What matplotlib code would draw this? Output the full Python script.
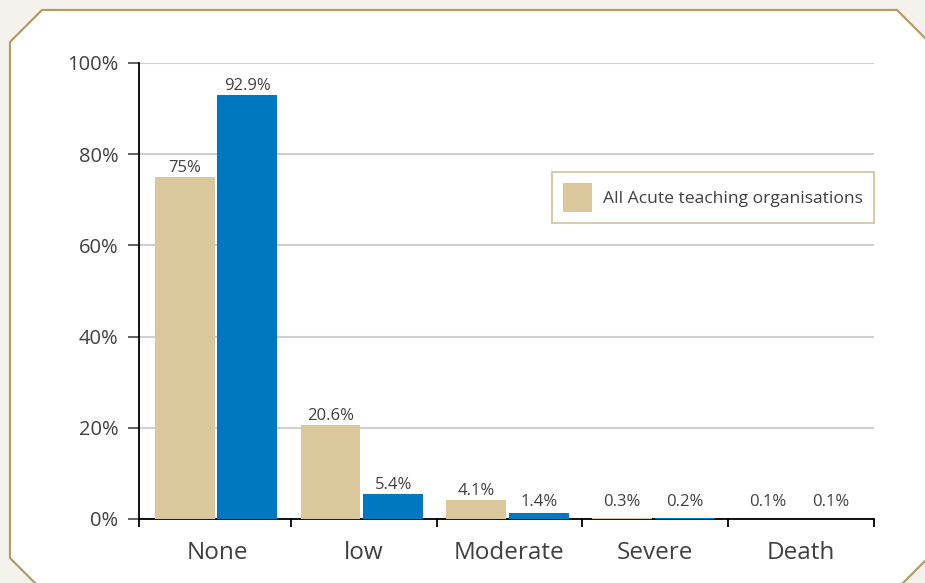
import matplotlib
matplotlib.use("Agg")
import matplotlib.pyplot as plt
from matplotlib.patches import Polygon
import numpy as np

categories = ["None", "low", "Moderate", "Severe", "Death"]
acute_teaching = [75.0, 20.6, 4.1, 0.3, 0.1]
organisation = [92.9, 5.4, 1.4, 0.2, 0.1]
acute_labels = ["75%", "20.6%", "4.1%", "0.3%", "0.1%"]
org_labels = ["92.9%", "5.4%", "1.4%", "0.2%", "0.1%"]
yticks = [0, 20, 40, 60, 80, 100]
ytick_labels = ["0%", "20%", "40%", "60%", "80%", "100%"]
legend_label = "All Acute teaching organisations"

TAN = "#dac79c"
BLUE = "#0077c1"
TEXT = "#404040"
BORDER = "#b39d66"
BG = "#f5f2ed"

plt.rcParams['font.family'] = ['Open Sans', 'DejaVu Sans']

W, H = 925, 583
fig = plt.figure(figsize=(W / 100, H / 100), dpi=100)
fig.patch.set_facecolor(BG)

def fp(x, y):
    return (x / W, 1 - y / H)

panel_px = [(10, 42), (42, 10), (897, 10), (950, 63), (950, 536),
            (897, 589), (41, 589), (10, 558)]
panel = Polygon([fp(x, y) for x, y in panel_px], closed=True,
                transform=fig.transFigure, facecolor="white",
                edgecolor=BORDER, linewidth=1.6, zorder=0)
fig.add_artist(panel)

ax = fig.add_axes([139 / W, 1 - 519 / H, (874 - 139) / W, (519 - 63) / H])
ax.set_facecolor("none")

x = np.arange(len(categories))
bw = 0.41
off = 0.215
shift = -0.012
ax.bar(x - off + shift, acute_teaching, width=bw, color=TAN, zorder=3, label=legend_label)
ax.bar(x + off + shift, organisation, width=bw, color=BLUE, zorder=3)

for xi, v, lab in zip(x - off + shift, acute_teaching, acute_labels):
    ax.annotate(lab, (xi, max(v, 1.6)), xytext=(0, 1), textcoords="offset points",
                ha="center", va="bottom", fontsize=12, color=TEXT)
for xi, v, lab in zip(x + off + shift, organisation, org_labels):
    ax.annotate(lab, (xi, max(v, 1.6)), xytext=(0, 1), textcoords="offset points",
                ha="center", va="bottom", fontsize=12, color=TEXT)

ax.set_xlim(-0.54, 4.5)
ax.set_ylim(0, 100)
ax.set_yticks(yticks)
ax.set_yticklabels(ytick_labels, fontsize=14.5, color=TEXT)
ax.yaxis.grid(True, color="#cfcfcf", linewidth=1.5, zorder=0)
ax.set_axisbelow(True)
ax.tick_params(axis="y", length=8, width=1.3, color="#555555", pad=7)

ax.set_xticks(x)
ax.set_xticklabels(categories, fontsize=17.5, color=TEXT)
ax.set_xticks([-0.54, 0.5, 1.5, 2.5, 3.5, 4.5], minor=True)
ax.tick_params(axis="x", which="major", length=0, pad=16)
ax.tick_params(axis="x", which="minor", length=6, width=1.3, color="black")

for s in ["top", "right"]:
    ax.spines[s].set_visible(False)
for s in ["left", "bottom"]:
    ax.spines[s].set_color("black")
    ax.spines[s].set_linewidth(1.3)

leg = ax.legend(loc="upper right", bbox_to_anchor=(1.0, (519 - 172) / 456),
                fontsize=12.6, frameon=True, fancybox=False, handlelength=1.65,
                handleheight=2.2, borderpad=0.62, handletextpad=0.65,
                borderaxespad=0)
leg.get_frame().set_edgecolor("#c9b88a")
leg.get_frame().set_linewidth(1.3)
for t in leg.get_texts():
    t.set_color(TEXT)

fig.savefig("out.png", dpi=100, facecolor=fig.get_facecolor())
